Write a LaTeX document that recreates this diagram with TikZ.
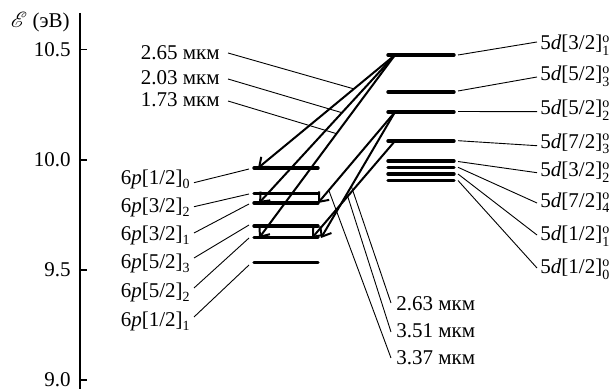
\documentclass[tikz,border=0pt]{standalone}
\usepackage{fontspec}
\setmainfont{Liberation Serif}
\usepackage{mathrsfs}
\usetikzlibrary{arrows.meta,calc}
\newcommand\pl[3]{6\textit{p}[#1/#2]$_{\mbox{\scriptsize #3}}$}
\newcommand\dl[3]{5\textit{d}[#1/#2]$^{\mbox{\scriptsize o}}_{\mbox{\scriptsize #3}}$}
\tikzset{
  lev/.style={line width=1.7pt, line cap=round},
  trans/.style={line width=1pt, -{Straight Barb[length=4pt,width=6.5pt]}},
  lead/.style={line width=0.45pt},
  lbl/.style={inner sep=0pt, font=\fontsize{10.5}{12}\selectfont},
  axisline/.style={line width=0.8pt},
}
\begin{document}
\begin{tikzpicture}[x=0.5pt,y=-0.5pt]
\useasboundingbox (0,0) rectangle (616,389);
% axis
\coordinate (atop) at (80,13);
\coordinate (abot) at (80,389);
\draw[axisline] (atop) -- (abot);
\foreach \k/\v/\yy in {a/10.5/49.5,b/10.0/160,c/9.5/270,d/9.0/380}{
  \coordinate (t\k) at (80,\yy);
  \coordinate (te\k) at (87,\yy);
  \draw[axisline] (t\k) -- (te\k);
  \node[lbl, anchor=base east] (tl\k) at (71,\yy+7) {\v};
}
\node[lbl, anchor=base east] (ylab) at (70,28) {$\mathscr{E}$ (эВ)};

% 6p levels
\foreach \n/\yy in {a/168,b/193.5,c/203,d/226,e/237.5,f/262.7}{
  \coordinate (p\n w) at (254,\yy);
  \coordinate (p\n e) at (318,\yy);
  \draw[lev] (p\n w) -- (p\n e);
}
% 5d levels
\foreach \n/\yy in {a/55,b/92,c/112,d/141,e/161,f/167.5,g/174,h/180.5}{
  \coordinate (d\n w) at (388,\yy);
  \coordinate (d\n e) at (454,\yy);
  \draw[lev] (d\n w) -- (d\n e);
}

% 6p labels
\node[lbl, anchor=base east] (lpa) at (191,185) {\pl{1}{2}{0}};
\node[lbl, anchor=base east] (lpb) at (191,213) {\pl{3}{2}{2}};
\node[lbl, anchor=base east] (lpc) at (191,241) {\pl{3}{2}{1}};
\node[lbl, anchor=base east] (lpd) at (191,269) {\pl{5}{2}{3}};
\node[lbl, anchor=base east] (lpe) at (191,298) {\pl{5}{2}{2}};
\node[lbl, anchor=base east] (lpf) at (191,327) {\pl{1}{2}{1}};
\foreach \n/\ys/\ye in {a/182.7/169,b/206.7/194,c/233/204,d/258/225,e/288/238,f/317/265}{
  \coordinate (sp\n) at (194,\ys);
  \coordinate (ep\n) at (249,\ye);
  \draw[lead] (sp\n) -- (ep\n);
}

% 5d labels
\node[lbl, anchor=base west] (lda) at (540,50) {\dl{3}{2}{1}};
\node[lbl, anchor=base west] (ldb) at (540,81) {\dl{5}{2}{3}};
\node[lbl, anchor=base west] (ldc) at (540,115) {\dl{5}{2}{2}};
\node[lbl, anchor=base west] (ldd) at (540,148.5) {\dl{7}{2}{3}};
\node[lbl, anchor=base west] (lde) at (540,177) {\dl{3}{2}{2}};
\node[lbl, anchor=base west] (ldf) at (540,207.5) {\dl{7}{2}{4}};
\node[lbl, anchor=base west] (ldg) at (540,241) {\dl{1}{2}{1}};
\node[lbl, anchor=base west] (ldh) at (540,274) {\dl{1}{2}{0}};
\foreach \n/\ys/\ye in {a/55/42,b/91/77,c/111.5/111.7,d/140.7/145.7,e/161.5/172.7,f/167.3/203,g/174/235,h/180.5/268}{
  \coordinate (sd\n) at (458,\ys);
  \coordinate (ed\n) at (537,\ye);
  \draw[lead] (sd\n) -- (ed\n);
}

% transitions
\coordinate (ua) at (395,55);
\coordinate (uc) at (395,112);
\coordinate (ud) at (395,141);
\coordinate (tA) at (258,168);
\coordinate (tB) at (259,203);
\coordinate (tC) at (259,238);
\coordinate (tE) at (318,203);
\coordinate (tF) at (321,238);
\coordinate (tG) at (312,238);
\draw[trans] (ua) -- (tA);
\draw[trans] (ua) -- (tB);
\draw[trans] (ua) -- (tC);
\draw[trans] (uc) -- (tE);
\draw[trans] (uc) -- (tF);
\draw[trans] (ud) -- (tG);

% wavelength labels, upper left
\node[lbl, anchor=base east] (w1) at (220,60) {2.65 мкм};
\node[lbl, anchor=base east] (w2) at (220,85) {2.03 мкм};
\node[lbl, anchor=base east] (w3) at (220,107) {1.73 мкм};
\coordinate (w1s) at (228,53);
\coordinate (w2s) at (228,79);
\coordinate (w3s) at (228,101);
\coordinate (w1e) at ($(ua)!0.30!(tA)$);
\coordinate (w2e) at ($(ua)!0.39!(tB)$);
\coordinate (w3e) at ($(ua)!0.43!(tC)$);
\draw[lead] (w1s) -- (w1e);
\draw[lead] (w2s) -- (w2e);
\draw[lead] (w3s) -- (w3e);

% wavelength labels, lower right
\node[lbl, anchor=base west] (w4) at (396,311) {2.63 мкм};
\node[lbl, anchor=base west] (w5) at (396,338) {3.51 мкм};
\node[lbl, anchor=base west] (w6) at (396,365) {3.37 мкм};
\coordinate (w4s) at (391,303);
\coordinate (w5s) at (391,332);
\coordinate (w6s) at (391,358);
\coordinate (w4e) at ($(uc)!0.59!(tF)$);
\coordinate (w5e) at ($(ud)!0.57!(tG)$);
\coordinate (w6e) at ($(uc)!0.86!(tE)$);
\draw[lead] (w4s) -- (w4e);
\draw[lead] (w5s) -- (w5e);
\draw[lead] (w6s) -- (w6e);
\end{tikzpicture}
\end{document}
